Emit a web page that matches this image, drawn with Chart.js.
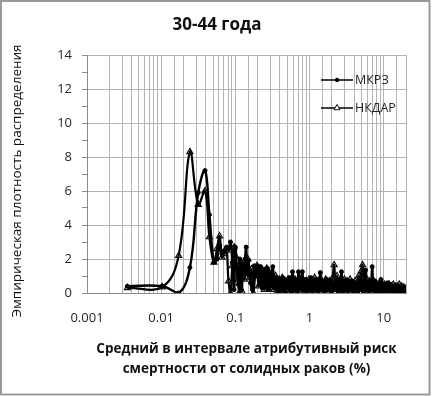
<!DOCTYPE html>
<html>
<head>
<meta charset="utf-8">
<script src="https://cdn.jsdelivr.net/npm/chart.js@4.4.1/dist/chart.umd.min.js"></script>
<style>
  html, body { margin: 0; padding: 0; background: #fff; }
  canvas { display: block; }
</style>
</head>
<body>
<canvas id="chart" width="433" height="396"></canvas>
<script>
const chartTitle = '30-44 года';
const yAxisTitle = 'Эмпирическая плотность распределения';
const xAxisTitle = ['Средний в интервале атрибутивный риск', 'смертности от солидных раков (%)'];
const seriesNames = ['МКРЗ', 'НКДАР'];
const xTickLabels = ['0.001', '0.01', '0.1', '1', '10'];
const yTickValues = [0, 2, 4, 6, 8, 10, 12, 14];

// interval mean risk (%), МКРЗ
const mkrzX = [
  0.0035, 0.0103, 0.0172, 0.0244, 0.0316, 0.039, 0.0447, 0.0514, 0.0565, 0.0614,
  0.066, 0.071, 0.076, 0.081, 0.086, 0.091, 0.096, 0.1,
  0.105, 0.11, 0.115, 0.12, 0.125, 0.13, 0.135, 0.14, 0.145,
  0.15, 0.16, 0.17, 0.18, 0.19, 0.2, 0.21, 0.22, 0.23, 0.24, 0.25, 0.26, 0.27, 0.28, 0.29, 0.3,
  0.32, 0.34, 0.36, 0.38, 0.4, 0.42, 0.44, 0.46, 0.48, 0.5,
  0.53, 0.56, 0.59, 0.62, 0.65, 0.68, 0.71, 0.74, 0.77, 0.8,
  0.84, 0.88, 0.92, 0.96, 1.0,
  1.05, 1.1, 1.15, 1.2, 1.25, 1.3, 1.35, 1.4, 1.45, 1.5,
  1.6, 1.7, 1.8, 1.9, 2.0, 2.1, 2.2, 2.3, 2.4, 2.5, 2.6, 2.7, 2.8, 2.9, 3.0,
  3.15, 3.3, 3.45, 3.6, 3.75, 3.9, 4.05, 4.2, 4.35, 4.5,
  4.7, 4.9, 5.1, 5.3, 5.5, 5.7, 5.9, 6.1, 6.3, 6.5,
  6.75, 7.0, 7.25, 7.5, 7.75, 8.0,
  8.3, 8.6, 8.9, 9.2, 9.5, 9.8,
  10.1, 10.5, 10.9, 11.3, 11.7, 12.1, 12.5, 12.9, 13.3, 13.7, 14.1, 14.5,
  15.0, 15.5, 16.0, 16.5, 17.0, 17.5, 18.0, 18.5, 19.0, 19.5, 20.0
];

// interval mean risk (%), НКДАР
const nkdarX = [
  0.0035, 0.0103, 0.0172, 0.0244, 0.0316, 0.039, 0.0447, 0.0514, 0.0565, 0.0614,
  0.066, 0.071, 0.076, 0.081, 0.086, 0.091, 0.096, 0.1,
  0.1075, 0.1125, 0.1175, 0.1225, 0.1275, 0.1325, 0.1375, 0.1425, 0.1475,
  0.155, 0.165, 0.175, 0.185, 0.195, 0.205, 0.215, 0.225, 0.235, 0.245, 0.255, 0.265, 0.275, 0.285, 0.295, 0.31,
  0.33, 0.35, 0.37, 0.39, 0.41, 0.43, 0.45, 0.47, 0.49, 0.515,
  0.545, 0.575, 0.605, 0.635, 0.665, 0.695, 0.725, 0.755, 0.785, 0.82,
  0.86, 0.9, 0.94, 0.98, 1.025,
  1.075, 1.125, 1.175, 1.225, 1.275, 1.325, 1.375, 1.425, 1.475, 1.55,
  1.65, 1.75, 1.85, 1.95, 2.05, 2.15, 2.25, 2.35, 2.45, 2.55, 2.65, 2.75, 2.85, 2.95, 3.07,
  3.22, 3.37, 3.52, 3.67, 3.82, 3.97, 4.12, 4.27, 4.42, 4.6,
  4.8, 5.0, 5.2, 5.4, 5.6, 5.8, 6.0, 6.2, 6.4, 6.62,
  6.87, 7.12, 7.37, 7.62, 7.87, 8.15,
  8.45, 8.75, 9.05, 9.35, 9.65, 9.95,
  10.3, 10.7, 11.1, 11.5, 11.9, 12.3, 12.7, 13.1, 13.5, 13.9, 14.3, 14.75,
  15.25, 15.75, 16.25, 16.75, 17.25, 17.75, 18.25, 18.75, 19.25, 19.6, 19.9
];

const mkrzValues = [
  0.4, 0.4, 0.0, 1.5, 5.9, 7.2, 4.6, 1.8, 2.0, 2.8,
  2.3, 2.5, 2.7, 2.6, 3.0, 1.8, 0.2, 2.7,
  1.5, 0.5, 2.0, 0.2, 1.6, 1.3, 2.0, 2.7, 1.1,
  1.9, 0.6, 0.2, 1.6, 1.0, 1.6, 0.5, 1.55, 0.3, 0.9, 1.4, 0.4, 1.45, 0.2, 1.2, 0.4,
  1.55, 0.3, 0.9, 0.1, 0.8, 0.2, 0.9, 0.1, 0.7, 0.3,
  0.9, 0.1, 1.25, 0.2, 0.8, 0.1, 1.25, 0.3, 0.7, 1.25,
  0.2, 0.8, 0.1, 0.7, 0.2,
  0.9, 0.1, 0.7, 0.2, 0.8, 0.1, 0.6, 1.2, 0.2, 0.7,
  0.1, 0.8, 0.2, 0.75, 0.1, 0.6, 0.2, 0.7, 0.1, 0.8, 0.2, 1.25, 0.1, 0.7, 0.2,
  0.75, 0.1, 0.6, 0.2, 0.7, 0.1, 0.6, 0.2, 0.5, 0.1,
  0.6, 0.2, 0.7, 0.1, 0.6, 1.35, 0.2, 0.6, 0.1, 0.7,
  0.2, 1.55, 0.3, 0.7, 0.1, 0.6,
  0.2, 0.5, 0.1, 0.8, 0.2, 0.5,
  0.1, 0.5, 0.2, 0.6, 0.1, 0.5, 0.2, 0.4, 0.1, 0.4, 0.2, 0.4,
  0.1, 0.4, 0.2, 0.3, 0.1, 0.3, 0.2, 0.3, 0.1, 0.25, 0.1
];

const nkdarValues = [
  0.3, 0.35, 2.2, 8.3, 5.2, 6.0, 3.3, 1.8, 2.6, 3.35,
  2.1, 2.3, 2.5, 0.7, 0.0, 1.6, 2.7, 2.2,
  0.8, 0.0, 1.8, 0.1, 1.75, 0.8, 1.2, 1.5, 2.0,
  0.9, 1.4, 0.0, 1.0, 1.6, 0.4, 1.2, 0.6, 1.3, 0.2, 1.0, 1.45, 0.3, 1.2, 0.5, 0.9,
  0.2, 1.0, 0.1, 0.8, 0.3, 0.9, 0.1, 0.7, 0.2, 0.8,
  0.1, 0.9, 0.3, 0.8, 0.1, 0.7, 0.2, 0.8, 0.1, 0.6,
  0.1, 0.7, 0.2, 0.8, 0.1,
  0.7, 0.2, 0.9, 0.1, 0.6, 0.2, 0.8, 0.1, 0.7, 0.2,
  0.8, 0.1, 0.7, 0.2, 0.9, 1.65, 0.3, 1.0, 0.2, 0.7, 0.1, 0.6, 0.2, 0.8, 0.1,
  0.7, 0.2, 0.8, 0.1, 0.6, 0.2, 0.7, 0.1, 0.6, 1.0,
  0.2, 1.3, 1.65, 0.3, 1.0, 0.2, 0.6, 0.1, 0.7, 0.2,
  0.6, 0.1, 0.7, 0.2, 0.6, 0.1,
  0.5, 0.2, 0.6, 0.1, 0.5, 0.2,
  0.5, 0.1, 0.4, 0.2, 0.5, 0.1, 0.4, 0.2, 0.5, 0.1, 0.4, 0.2,
  0.4, 0.1, 0.5, 0.2, 0.4, 0.1, 0.35, 0.1, 0.3, 0.1, 0.2
];

const FONT = "'Open Sans', sans-serif";
const gridColor = '#b4b4b4';
const axisColor = '#8c8c8c';
const textColor = '#262626';

const framePlugin = {
  id: 'frame',
  beforeDraw(chart) {
    const ctx = chart.ctx;
    ctx.save();
    ctx.fillStyle = '#ffffff';
    ctx.fillRect(0, 0, chart.width, chart.height);
    ctx.strokeStyle = '#9a9a9a';
    ctx.lineWidth = 2;
    ctx.strokeRect(1, 1, 428.5, 393.5);
    ctx.restore();
  }
};

const titleLegendPlugin = {
  id: 'titleLegend',
  afterDatasetsDraw(chart) {
    const ctx = chart.ctx;
    ctx.save();
    ctx.fillStyle = '#111';
    ctx.font = 'bold 17px ' + FONT;
    ctx.textAlign = 'center';
    ctx.textBaseline = 'middle';
    ctx.fillText(chartTitle, 217, 25);

    // y axis title
    ctx.save();
    ctx.translate(17, 181);
    ctx.rotate(-Math.PI / 2);
    ctx.font = '13.5px ' + FONT;
    ctx.fillText(yAxisTitle, 0, 0);
    ctx.restore();

    const rows = [80, 108];
    ctx.font = '12.5px ' + FONT;
    ctx.textAlign = 'left';
    chart.data.datasets.forEach((ds, i) => {
      const y = rows[i];
      ctx.strokeStyle = ds.borderColor;
      ctx.lineWidth = 1.5;
      ctx.beginPath();
      ctx.moveTo(321, y);
      ctx.lineTo(353, y);
      ctx.stroke();
      ctx.fillStyle = i === 1 ? '#ffffff' : ds.pointBackgroundColor;
      ctx.strokeStyle = ds.pointBorderColor;
      ctx.lineWidth = 1;
      Chart.helpers.drawPoint(ctx, {
        pointStyle: ds.pointStyle,
        radius: i === 1 ? 3.5 : 1.8,
        borderWidth: 1
      }, 337, y);
      ctx.fillStyle = textColor;
      ctx.fillText(ds.label, 355, y);
    });
    ctx.restore();
  }
};

const ctx = document.getElementById('chart').getContext('2d');

new Chart(ctx, {
  type: 'line',
  data: {
    datasets: [
      {
        label: seriesNames[0],
        data: mkrzX.map((x, i) => ({ x: x, y: mkrzValues[i] })),
        borderColor: '#000000',
        borderWidth: 2.4,
        tension: 0.4,
        pointStyle: 'circle',
        pointRadius: 2,
        pointBorderWidth: 1,
        pointBackgroundColor: '#000000',
        pointBorderColor: '#000000'
      },
      {
        label: seriesNames[1],
        data: nkdarX.map((x, i) => ({ x: x, y: nkdarValues[i] })),
        borderColor: '#000000',
        borderWidth: 2.2,
        tension: 0.4,
        pointStyle: 'triangle',
        pointRadius: 3.5,
        pointBorderWidth: 1.2,
        pointBackgroundColor: 'rgba(255,255,255,0)',
        pointBorderColor: '#111111'
      }
    ]
  },
  options: {
    responsive: false,
    animation: false,
    devicePixelRatio: 1,
    layout: { padding: { top: 55, right: 27, bottom: 0, left: 0 } },
    plugins: {
      legend: { display: false },
      title: { display: false },
      tooltip: { enabled: false }
    },
    scales: {
      x: {
        type: 'logarithmic',
        min: 0.001,
        max: 20,
        afterFit: (scale) => { scale.height = 103; },
        grid: { color: gridColor, lineWidth: 1, drawTicks: false },
        border: { color: axisColor, width: 1 },
        ticks: {
          autoSkip: false,
          maxRotation: 0,
          padding: 17,
          color: textColor,
          font: { family: FONT, size: 13 },
          callback: (value) => {
            const e = Math.log10(value);
            if (Math.abs(e - Math.round(e)) < 1e-6) {
              return xTickLabels[Math.round(e) + 3];
            }
            return '';
          }
        },
        title: {
          display: true,
          text: xAxisTitle,
          color: '#111',
          font: { family: FONT, size: 13.5, weight: 'bold', lineHeight: '20px' },
          padding: { top: 0, bottom: 17 }
        }
      },
      y: {
        min: 0,
        max: 14,
        afterFit: (scale) => { scale.width = 87; },
        grid: {
          lineWidth: 1,
          tickLength: 5,
          color: (c) => yTickValues.includes(c.tick.value) ? gridColor : 'rgba(0,0,0,0)',
          tickColor: axisColor
        },
        border: { color: axisColor, width: 1 },
        ticks: {
          stepSize: 1,
          autoSkip: false,
          padding: 10,
          color: textColor,
          font: { family: FONT, size: 13 },
          callback: (value) => yTickValues.includes(value) ? String(value) : ''
        },
        title: { display: false }
      }
    }
  },
  plugins: [framePlugin, titleLegendPlugin]
});
</script>
</body>
</html>
